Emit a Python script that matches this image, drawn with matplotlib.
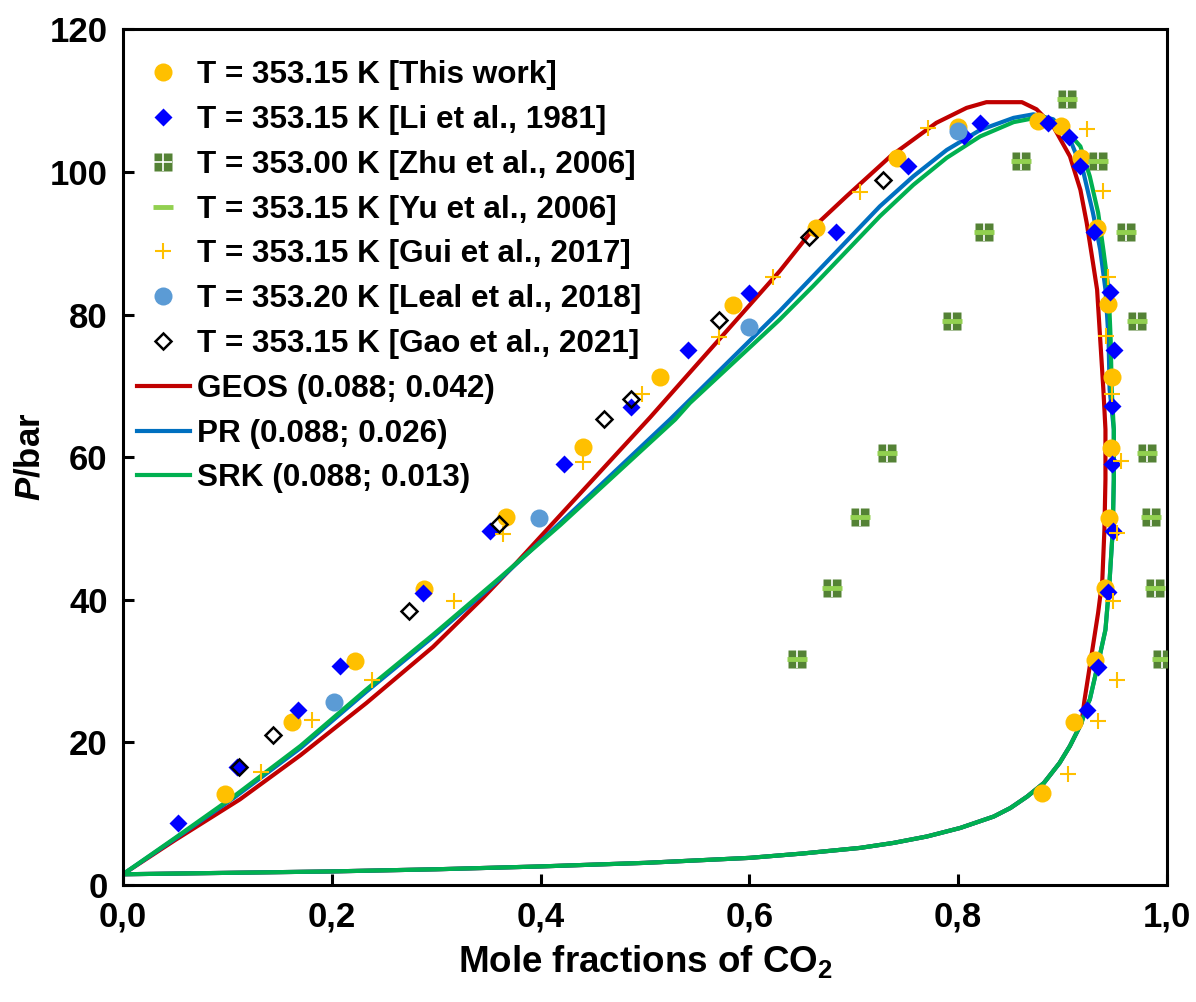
import matplotlib
matplotlib.use("Agg")
import matplotlib.pyplot as plt

plt.rcParams['font.family'] = ['Liberation Sans', 'DejaVu Sans']
plt.rcParams['font.weight'] = 'bold'
plt.rcParams['mathtext.fontset'] = 'custom'
plt.rcParams['mathtext.it'] = 'Liberation Sans:italic:bold'
plt.rcParams['mathtext.rm'] = 'Liberation Sans:bold'

# experimental data, x = mole fraction CO2, P in bar
this_x = [0.098, 0.162, 0.222, 0.288, 0.367, 0.441, 0.514, 0.584, 0.664, 0.741, 0.800,
          0.876, 0.898, 0.918, 0.933, 0.943, 0.947, 0.946, 0.944, 0.941, 0.931, 0.911, 0.880]
this_p = [12.8, 22.9, 31.4, 41.5, 51.6, 61.4, 71.3, 81.4, 92.2, 101.9, 106.3,
          107.1, 106.4, 102.0, 92.2, 81.5, 71.3, 61.3, 51.5, 41.6, 31.6, 22.9, 12.9]

li_x = [0.053, 0.109, 0.168, 0.208, 0.287, 0.352, 0.422, 0.487, 0.541, 0.600, 0.683, 0.752,
        0.806, 0.821, 0.886, 0.906, 0.917, 0.930, 0.945, 0.949, 0.947, 0.947, 0.948, 0.943,
        0.934, 0.923]
li_p = [8.7, 16.5, 24.6, 30.7, 41.0, 49.6, 59.1, 67.1, 75.0, 83.1, 91.6, 100.8,
        105.0, 106.9, 106.9, 104.9, 100.8, 91.6, 83.2, 75.0, 67.2, 59.1, 49.7, 41.1,
        30.6, 24.5]

zhu_x = [0.904, 0.860, 0.934, 0.825, 0.961, 0.794, 0.971, 0.732, 0.981, 0.706, 0.985,
         0.679, 0.988, 0.646, 0.995]
zhu_p = [110.3, 101.6, 101.6, 91.6, 91.6, 79.1, 79.1, 60.6, 60.6, 51.6, 51.6,
         41.6, 41.6, 31.7, 31.7]

yu_x = [0.904, 0.860, 0.934, 0.825, 0.961, 0.794, 0.971, 0.732, 0.981, 0.706, 0.985,
        0.679, 0.988, 0.646, 0.995]
yu_p = [110.3, 101.6, 101.6, 91.6, 91.6, 79.1, 79.1, 60.6, 60.6, 51.6, 51.6,
        41.6, 41.6, 31.7, 31.7]

gui_x = [0.132, 0.181, 0.239, 0.317, 0.364, 0.441, 0.497, 0.571, 0.623, 0.706, 0.771,
         0.923, 0.939, 0.943, 0.942, 0.947, 0.956, 0.952, 0.948, 0.952, 0.934, 0.905]
gui_p = [15.8, 23.2, 28.7, 39.9, 49.2, 59.3, 68.8, 76.9, 85.3, 97.2, 106.2,
         106.1, 97.3, 85.3, 77.0, 68.8, 59.4, 49.3, 39.9, 28.8, 23.0, 15.5]

leal_x = [0.202, 0.398, 0.600, 0.800]
leal_p = [25.6, 51.5, 78.2, 105.7]

gao_x = [0.111, 0.144, 0.274, 0.360, 0.461, 0.487, 0.571, 0.657, 0.728]
gao_p = [16.6, 21.1, 38.4, 50.6, 65.4, 68.2, 79.3, 90.9, 98.9]

# model curves: left branch -> top -> right branch, then the shared lower branch
low_x = [0.918, 0.907, 0.897, 0.882, 0.866, 0.850, 0.834, 0.802, 0.770, 0.738, 0.706,
         0.650, 0.600, 0.500, 0.400, 0.300, 0.200, 0.100, 0.0]
low_p = [22.7, 19.5, 17.1, 14.3, 12.4, 10.8, 9.6, 8.0, 6.8, 5.9, 5.2,
         4.4, 3.8, 3.1, 2.6, 2.2, 1.9, 1.7, 1.5]

geos_x = [0.0, 0.05, 0.112, 0.170, 0.233, 0.297, 0.345, 0.377, 0.419, 0.505, 0.537,
          0.580, 0.629, 0.666, 0.693, 0.735, 0.779, 0.808, 0.827, 0.861, 0.875, 0.891,
          0.907, 0.917, 0.923, 0.929, 0.933, 0.936, 0.939, 0.941, 0.941, 0.940, 0.938,
          0.934, 0.929, 0.921] + low_x
geos_p = [1.5, 6.3, 12.0, 18.2, 25.5, 33.4, 40.3, 45.2, 51.9, 65.6, 70.9,
          78.0, 86.1, 92.9, 96.6, 102.2, 106.9, 109.0, 109.8, 109.8, 108.8, 106.4,
          102.2, 97.5, 92.9, 87.3, 83.5, 76.5, 69.5, 63.9, 56.9, 49.8, 42.8,
          38.2, 33.5, 26.0] + low_p

pr_x = [0.0, 0.05, 0.106, 0.170, 0.233, 0.297, 0.361, 0.419, 0.524, 0.629, 0.661,
        0.693, 0.725, 0.757, 0.789, 0.821, 0.853, 0.872, 0.891, 0.907, 0.920, 0.929,
        0.936, 0.941, 0.944, 0.945, 0.949, 0.949, 0.948, 0.945, 0.941, 0.934, 0.926,
        0.923] + low_x
pr_p = [1.5, 6.5, 12.2, 19.2, 27.1, 34.8, 42.9, 50.8, 65.3, 80.5, 85.4,
        90.3, 95.2, 99.4, 103.1, 105.9, 107.6, 108.1, 107.4, 104.6, 99.9, 94.3,
        89.1, 83.5, 76.5, 69.5, 63.9, 56.9, 49.8, 42.8, 35.8, 31.1, 26.0,
        25.1] + low_p

srk_x = [0.0, 0.05, 0.106, 0.170, 0.233, 0.297, 0.361, 0.419, 0.529, 0.543, 0.629,
         0.661, 0.693, 0.725, 0.757, 0.789, 0.821, 0.853, 0.881, 0.900, 0.917, 0.926,
         0.934, 0.939, 0.944, 0.946, 0.947, 0.949, 0.949, 0.948, 0.945, 0.941, 0.934,
         0.926, 0.923] + low_x
srk_p = [1.5, 6.6, 12.4, 19.5, 27.4, 35.1, 43.1, 50.5, 65.3, 67.6, 79.3,
         84.0, 88.9, 93.8, 98.2, 102.0, 105.0, 107.0, 107.8, 106.4, 103.6, 99.4,
         94.3, 89.1, 83.5, 76.5, 69.5, 63.9, 56.9, 49.8, 42.8, 35.8, 31.1,
         26.0, 25.1] + low_p

xticks = [0.0, 0.2, 0.4, 0.6, 0.8, 1.0]
xticklabels = ['0,0', '0,2', '0,4', '0,6', '0,8', '1,0']
yticks = [0, 20, 40, 60, 80, 100, 120]

fig = plt.figure(figsize=(11.96, 10.02), dpi=100)
ax = fig.add_axes([0.1028, 0.1168, 0.8730, 0.8538])

l_geos, = ax.plot(geos_x, geos_p, color='#C00000', lw=3, zorder=2, solid_joinstyle='round')
l_pr, = ax.plot(pr_x, pr_p, color='#0070C0', lw=3, zorder=2, solid_joinstyle='round')
l_srk, = ax.plot(srk_x, srk_p, color='#00B050', lw=3, zorder=2, solid_joinstyle='round')

h_this, = ax.plot(this_x, this_p, 'o', ms=13, color='#FFC000', mec='none', zorder=3)
h_li, = ax.plot(li_x, li_p, 'D', ms=9, color='#0000FF', mec='none', zorder=4)
h_zhu, = ax.plot(zhu_x, zhu_p, 's', ms=12.5, color='#548235', mec='none', zorder=5)
h_zhu2, = ax.plot(zhu_x, zhu_p, '+', ms=12.5, mew=1.2, color='white', zorder=5)
h_yu, = ax.plot(yu_x, yu_p, '_', ms=14, mew=3.5, color='#92D050', zorder=6)
h_gui, = ax.plot(gui_x, gui_p, '+', ms=12, mew=1.5, color='#FFC000', zorder=7)
h_leal, = ax.plot(leal_x, leal_p, 'o', ms=13, color='#5B9BD5', mec='none', zorder=8)
h_gao, = ax.plot(gao_x, gao_p, 'D', ms=8, mfc='none', mec='black', mew=1.8, zorder=9)

ax.set_xlim(0, 1)
ax.set_ylim(0, 120)
ax.set_xticks(xticks)
ax.set_xticklabels(xticklabels)
ax.set_yticks(yticks)
ax.tick_params(direction='in', length=8, width=2.2, labelsize=25, pad=11)
for s in ax.spines.values():
    s.set_linewidth(2.2)

ax.set_xlabel('Mole fractions of CO$_\\mathregular{2}$', fontsize=26.5, fontweight='bold', labelpad=7)
ax.set_ylabel('$\\mathit{P}$/bar', fontsize=25, fontweight='bold', labelpad=2)

handles = [h_this, h_li, (h_zhu, h_zhu2), h_yu, h_gui, h_leal, h_gao, l_geos, l_pr, l_srk]
labels = ['T = 353.15 K [This work]', 'T = 353.15 K [Li et al., 1981]',
          'T = 353.00 K [Zhu et al., 2006]', 'T = 353.15 K [Yu et al., 2006]',
          'T = 353.15 K [Gui et al., 2017]', 'T = 353.20 K [Leal et al., 2018]',
          'T = 353.15 K [Gao et al., 2021]', 'GEOS (0.088; 0.042)',
          'PR (0.088; 0.026)', 'SRK (0.088; 0.013)']
ax.legend(handles, labels, loc='upper left', frameon=False, fontsize=22.7,
          handlelength=1.7, handletextpad=0.2, labelspacing=0.47,
          borderaxespad=0.3, bbox_to_anchor=(-0.008, 0.99))

fig.savefig('out.png', dpi=100)
